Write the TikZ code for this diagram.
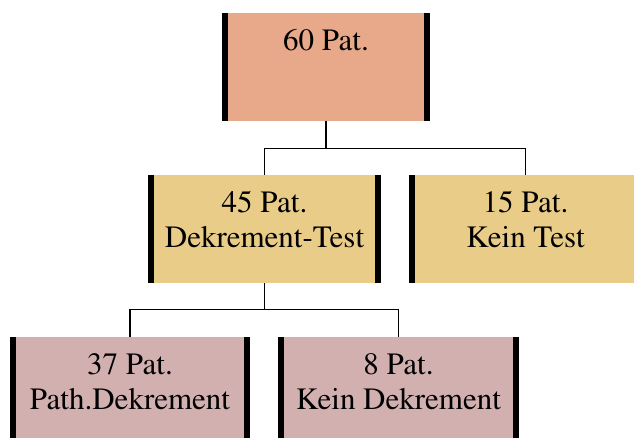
\documentclass[tikz,border=0pt]{standalone}
\usepackage[T1]{fontenc}
\renewcommand{\rmdefault}{ptm}
\usepackage{xcolor}
\usetikzlibrary{calc}

\definecolor{salmon}{HTML}{E8A98A}
\definecolor{sand}{HTML}{E8CC88}
\definecolor{rose}{HTML}{D2B0B0}

\tikzset{
    patbox/.style={rectangle, fill=#1, inner sep=0pt, minimum height=108pt,
        path picture={
            \fill[black] (path picture bounding box.north west) rectangle
                ([xshift=6pt]path picture bounding box.south west);
            \fill[black] (path picture bounding box.north east) rectangle
                ([xshift=-6pt]path picture bounding box.south east);
        }},
    pattext/.style={label={[anchor=north, inner sep=0pt, yshift=-16.5pt, align=center,
        font=\rmfamily\fontsize{31}{35}\selectfont]north:#1}},
    branch/.style={draw=black, line width=1.3pt}
}

\begin{document}
\begin{tikzpicture}[x=1pt, y=-1pt]
        \useasboundingbox (0, 0) rectangle (634, 438);
        \clip (0, 0) rectangle (634, 438);
        % top
        \node[patbox=salmon, minimum width=208pt, pattext={60 Pat.}] (all) at (326, 67) {};
        % second row
        \node[patbox=sand, minimum width=233pt, pattext={45 Pat.\\Dekrement-Test}] (test) at (264.5, 229) {};
        \node[patbox=sand, minimum width=233pt, pattext={15 Pat.\\Kein Test}] (notest) at (525.5, 229) {};
        % third row
        \node[patbox=rose, minimum width=240pt, pattext={37 Pat.\\Path.Dekrement}] (path) at (130, 391) {};
        \node[patbox=rose, minimum width=241pt, pattext={8 Pat.\\Kein Dekrement}] (nodec) at (398.5, 391) {};
        % connectors
        \draw[branch] (all.south) -- ++(0, 27) coordinate (fork1);
        \draw[branch] (test.north) |- (fork1) -| (notest.north);
        \draw[branch] (test.south) -- ++(0, 26) coordinate (fork2);
        \draw[branch] (path.north) |- (fork2) -| (nodec.north);
    \end{tikzpicture}
\end{document}
